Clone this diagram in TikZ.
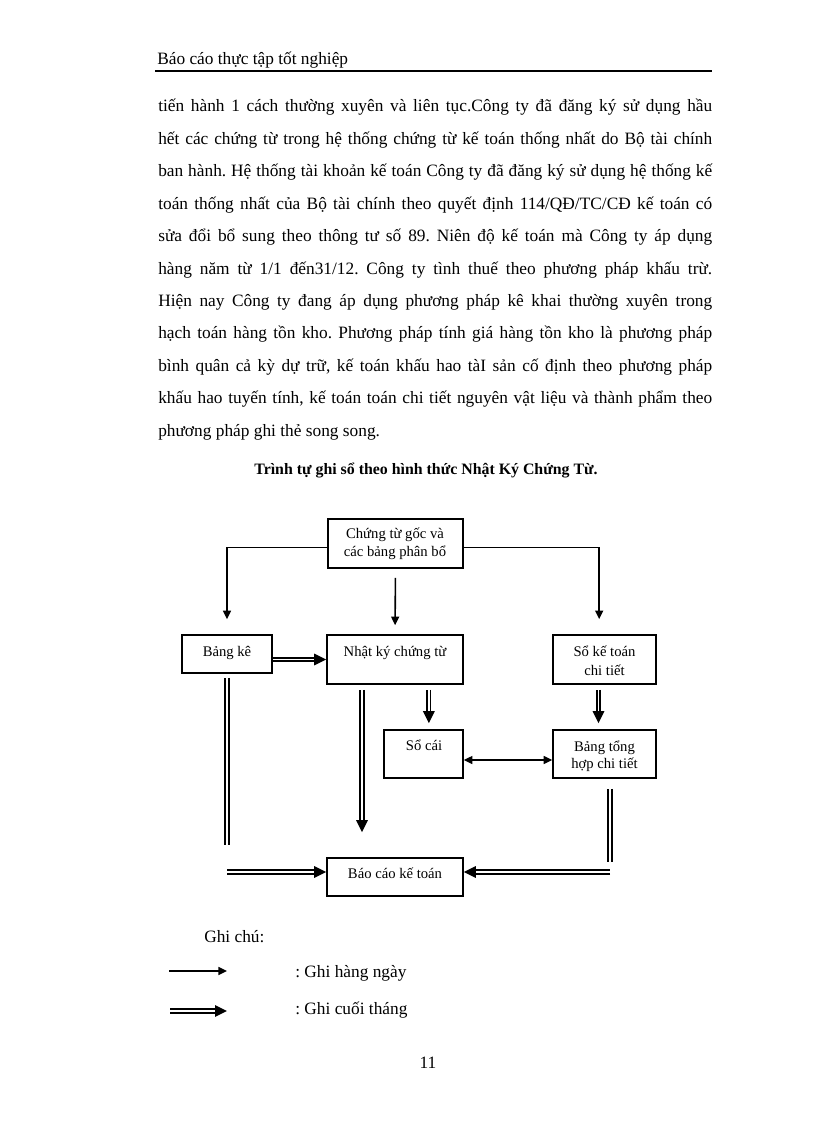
\documentclass[tikz,border=0pt]{standalone}
\usepackage{fontspec}
\setmainfont{Liberation Serif}
\usetikzlibrary{arrows.meta,fit,calc}
\begin{document}
\frenchspacing
\begin{tikzpicture}[x=0.75pt,y=-0.75pt,
  bodytxt/.style={font=\fontsize{13}{15}\selectfont\frenchspacing, inner sep=0pt, anchor=base west},
  box/.style={draw, line width=1.2pt, inner sep=0pt},
  btxt/.style={font=\fontsize{11}{12}\selectfont, inner sep=0pt, anchor=base},
  thinarr/.style={line width=1.2pt, -{Triangle[length=6.5pt,width=6pt]}},
  dbl/.style={double, line width=1.4pt, double distance=1.1pt},
  dblarr/.style={dbl, -{Triangle[length=9pt,width=8.5pt]}}]
\useasboundingbox (0,0) rectangle (816,1123);
\fill[white] (0,0) rectangle (816,1123);

% header
\node[bodytxt] (hdr) at (157,65) {Báo cáo thực tập tốt nghiệp};
\draw[line width=1.6pt] (155,71) -- (712,71);

% body
\node[bodytxt] (l1) at (158,112) {\makebox[415.5pt][s]{tiến hành 1 cách thường xuyên và liên tục.Công ty đã đăng ký sử dụng hầu}};
\node[bodytxt] (l2) at (158,144.4) {\makebox[415.5pt][s]{hết các chứng từ trong hệ thống chứng từ kế toán thống nhất do Bộ tài chính}};
\node[bodytxt] (l3) at (158,176.8) {\makebox[415.5pt][s]{ban hành. Hệ thống tài khoản kế toán Công ty đã đăng ký sử dụng hệ thống kế}};
\node[bodytxt] (l4) at (158,209.2) {\makebox[415.5pt][s]{toán thống nhất của Bộ tài chính theo quyết định 114/QĐ/TC/CĐ kế toán có}};
\node[bodytxt] (l5) at (158,241.6) {\makebox[415.5pt][s]{sửa đổi bổ sung theo thông tư số 89. Niên độ kế toán mà Công ty áp dụng}};
\node[bodytxt] (l6) at (158,274) {\makebox[415.5pt][s]{hàng năm từ 1/1 đến31/12. Công ty tình thuế theo phương pháp khấu trừ.}};
\node[bodytxt] (l7) at (158,306.4) {\makebox[415.5pt][s]{Hiện nay Công ty đang áp dụng phương pháp kê khai thường xuyên trong}};
\node[bodytxt] (l8) at (158,338.8) {\makebox[415.5pt][s]{hạch toán hàng tồn kho. Phương pháp tính giá hàng tồn kho là phương pháp}};
\node[bodytxt] (l9) at (158,371.2) {\makebox[415.5pt][s]{bình quân cả kỳ dự trữ, kế toán khấu hao tàI sản cố định theo phương pháp}};
\node[bodytxt] (l10) at (158,403.6) {\makebox[415.5pt][s]{khấu hao tuyến tính, kế toán toán chi tiết nguyên vật liệu và thành phẩm theo}};
\node[bodytxt] (l11) at (158,436) {phương pháp ghi thẻ song song.};

\node[bodytxt, anchor=base, font=\fontsize{11.9}{14}\selectfont\bfseries] (title) at (426,474) {Trình tự ghi sổ theo hình thức Nhật Ký Chứng Từ.};

% boxes
\node[box, fit={(328,519) (463,568)}] (ctg) {};
\node[box, fit={(182,635) (272,673)}] (bk) {};
\node[box, fit={(327,635) (463,684)}] (nkct) {};
\node[box, fit={(553,635) (656,684)}] (sktct) {};
\node[box, fit={(384,730) (463,778)}] (sc) {};
\node[box, fit={(553,730) (656,778)}] (bth) {};
\node[box, fit={(327,858) (463,896)}] (bckt) {};

% box texts
\node[btxt] (t1a) at (395,538) {Chứng từ gốc và};
\node[btxt] (t1b) at (395,556.5) {các bảng phân bổ};
\node[btxt] (t2) at (227,656.5) {Bảng kê};
\node[btxt] (t3) at (395,656.5) {Nhật ký chứng từ};
\node[btxt] (t4a) at (604.5,656.5) {Sổ kế toán};
\node[btxt] (t4b) at (604.5,675) {chi tiết};
\node[btxt] (t5) at (424,750) {Sổ cái};
\node[btxt] (t6a) at (604.5,751.5) {Bảng tổng};
\node[btxt] (t6b) at (604.5,768.5) {hợp chi tiết};
\node[btxt] (t7) at (395,878) {Báo cáo kế toán};

% connectors
\draw[thinarr, shorten >=11.25pt] ([yshift=-3pt]ctg.west) -| (bk.north);
\draw[thinarr, shorten >=11.25pt] ([yshift=-3pt]ctg.east) -| ([xshift=-4pt]sktct.north);
\draw[thinarr, shorten <=6.75pt, shorten >=6.75pt] (ctg.south) -- (nkct.south |- nkct.north);

\draw[dblarr] (bk.east |- nkct.west) -- (nkct.west);

\coordinate (lc) at (227,872);
\coordinate (rc) at (610,872);
\draw[dbl, shorten <=3pt, shorten >=20pt] (bk.south) -- (lc);
\draw[dblarr] (lc) -- (bckt.west |- lc);
\draw[dbl, shorten <=7.5pt, shorten >=7.5pt] (bth.south -| rc) -- (rc);
\draw[dblarr] (rc) -- (bckt.east |- rc);

\draw[dblarr, shorten <=3.75pt, shorten >=18.75pt] ([xshift=-24.75pt]nkct.south) -- ([xshift=-24.75pt]nkct.south |- bckt.north);
\draw[dblarr, shorten <=3.75pt, shorten >=4.5pt] ([xshift=4pt]sc.north |- nkct.south) -- ([xshift=4pt]sc.north);
\draw[dblarr, shorten <=3.75pt, shorten >=4.5pt] ([xshift=-4.5pt]sktct.south) -- ([xshift=-4.5pt]bth.north);

\draw[line width=1.2pt, {Triangle[length=6.5pt,width=6pt]}-{Triangle[length=6.5pt,width=6pt]}] ([yshift=-4.5pt]sc.east) -- ([yshift=-4.5pt]bth.west);

% legend
\node[bodytxt] (gc) at (204,942) {Ghi chú:};
\coordinate (la1) at (169,971);
\coordinate (la2) at (227,971);
\draw[thinarr] (la1) -- (la2);
\node[bodytxt] (g1) at (295,977) {: Ghi hàng ngày};
\coordinate (lb1) at (170,1011);
\coordinate (lb2) at (227,1011);
\draw[dblarr] (lb1) -- (lb2);
\node[bodytxt] (g2) at (295,1014) {: Ghi cuối tháng};

\node[bodytxt, anchor=base] (pg) at (428,1068) {11};
\end{tikzpicture}
\end{document}
